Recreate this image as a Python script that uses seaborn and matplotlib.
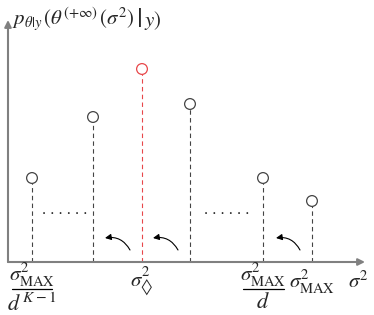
import matplotlib
matplotlib.use('Agg')
import matplotlib.pyplot as plt
import seaborn as sns
import pandas as pd

# stem positions / heights (arbitrary units)
stem_x = [2.4, 8.5, 13.4, 18.2, 25.5, 30.4]
stem_y = [8.4, 14.5, 19.3, 15.8, 8.4, 6.1]
stem_color = ['#444444', '#444444', '#e8474a', '#444444', '#444444', '#444444']

# labels under the x axis (numerator, denominator)
label_x = [2.4, 13.4, 25.5, 30.4, 35.0]
label_num = [r'$\sigma^2_{\mathrm{MAX}}$', '$\\sigma^2_{\u25ca}$',
             r'$\sigma^2_{\mathrm{MAX}}$', r'$\sigma^2_{\mathrm{MAX}}$', r'$\sigma^2$']
label_den = [r'$d^{\,K-1}$', None, r'$d$', None, None]

# curved arrows (tail -> head)
arrow_tail = [(12.2, 1.2), (17.0, 1.2), (29.2, 1.2)]
arrow_head = [(9.7, 2.4), (14.5, 2.4), (26.8, 2.4)]

sns.set_style('white')
plt.rcParams['mathtext.fontset'] = 'stix'
plt.rcParams['font.family'] = ['STIXGeneral', 'DejaVu Serif']

fig = plt.figure(figsize=(3.74, 3.15), dpi=100)
ax = fig.add_axes([8 / 374, 53 / 315, 357 / 374, 242 / 315])
ax.set_xlim(0, 35.7)
ax.set_ylim(0, 24.2)
ax.axis('off')

df = pd.DataFrame({'x': stem_x, 'y': stem_y, 'c': stem_color})
for _, r in df.iterrows():
    ax.plot([r.x, r.x], [0, r.y], ls=(0, (4, 3)), lw=0.8, color=r.c, zorder=1)
sns.scatterplot(data=df, x='x', y='y', ax=ax, s=60, facecolor='white',
                edgecolor=stem_color, linewidth=0.9, zorder=3, clip_on=False)

# axes with arrows
ax.annotate('', xy=(35.7, 0), xytext=(0, 0), annotation_clip=False,
            arrowprops=dict(arrowstyle='-|>', color='#808080', lw=1.5,
                            mutation_scale=10, shrinkA=0, shrinkB=0))
ax.annotate('', xy=(0, 24.2), xytext=(0, 0), annotation_clip=False,
            arrowprops=dict(arrowstyle='-|>', color='#808080', lw=1.5,
                            mutation_scale=10, shrinkA=0, shrinkB=0))

# dotted ellipsis
ax.text(5.7, 4.4, '. . . . . .', ha='center', va='bottom', fontsize=12)
ax.text(21.9, 4.4, '. . . . . .', ha='center', va='bottom', fontsize=12)

for t, h in zip(arrow_tail, arrow_head):
    ax.annotate('', xy=h, xytext=t,
                arrowprops=dict(arrowstyle='-|>', color='black', lw=0.8,
                                mutation_scale=9, shrinkA=0, shrinkB=0,
                                connectionstyle='arc3,rad=0.35'))

for x, num, den in zip(label_x, label_num, label_den):
    if den is None:
        ax.text(x, -2.0, num, ha='center', va='center', fontsize=15, clip_on=False)
    else:
        ax.text(x, -1.3, num, ha='center', va='center', fontsize=15, clip_on=False)
        ax.plot([x - 2.05, x + 2.05], [-2.65, -2.65], color='black', lw=0.9, clip_on=False)
        ax.text(x, -3.15, den, ha='center', va='top', fontsize=16, clip_on=False)

# y label, with a tall bar before y
t1 = ax.text(0.35, 24.3, r'$p_{\theta|y}\,(\theta^{(+\infty)}\,(\sigma^2)$',
             ha='left', va='center', fontsize=15, clip_on=False)
t2 = ax.annotate('|', xy=(1, 0.45), xycoords=t1, xytext=(2, 0),
                 textcoords='offset points', ha='left', va='center',
                 fontsize=21, annotation_clip=False)
ax.annotate(r'$y)$', xy=(1, 0.5), xycoords=t2, xytext=(1, 0),
            textcoords='offset points', ha='left', va='center',
            fontsize=15, annotation_clip=False)

fig.savefig('out.png', dpi=100)
